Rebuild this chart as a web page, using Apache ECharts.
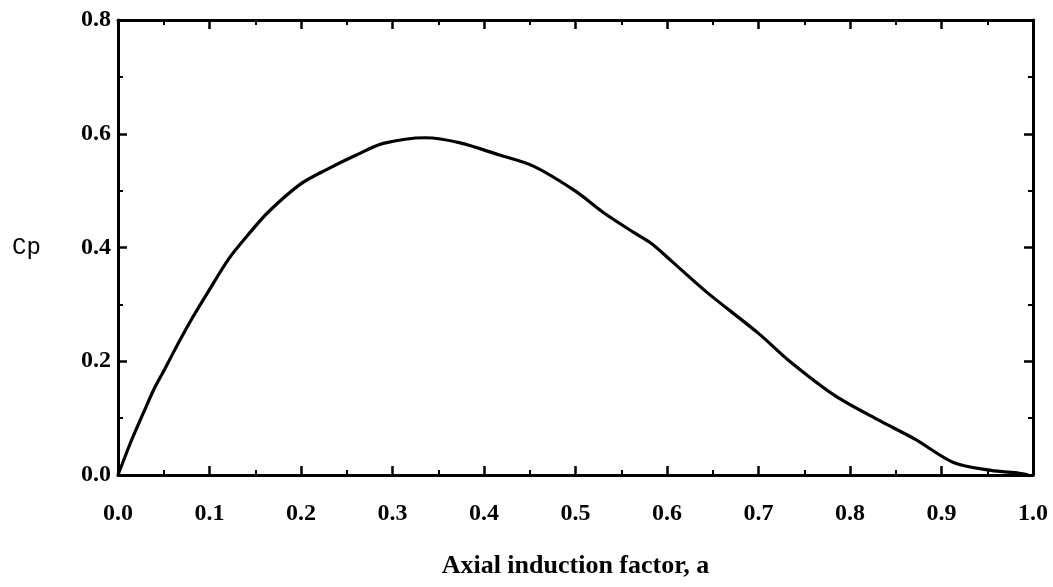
<!DOCTYPE html>
<html>
<head>
<meta charset="utf-8">
<script src="https://cdn.jsdelivr.net/npm/echarts@6/dist/echarts.min.js"></script>
<style>
  html, body { margin: 0; padding: 0; background: #fff; }
  #chart { width: 1053px; height: 587px; }
</style>
</head>
<body>
<div id="chart"></div>
<script>
// axial induction factor a
var aVals = [0, 0.015, 0.028, 0.039, 0.051, 0.066, 0.079, 0.097, 0.121, 0.142, 0.164, 0.199,
  0.228, 0.261, 0.29, 0.336, 0.374, 0.416, 0.454, 0.5, 0.53, 0.564, 0.583, 0.605, 0.643,
  0.7, 0.734, 0.784, 0.833, 0.871, 0.913, 0.954, 0.985, 0.995];
// power coefficient Cp
var cpVals = [0, 0.062, 0.11, 0.15, 0.186, 0.232, 0.27, 0.318, 0.38, 0.422, 0.462, 0.511,
  0.537, 0.563, 0.583, 0.593, 0.584, 0.563, 0.543, 0.499, 0.462, 0.426, 0.407, 0.376, 0.322,
  0.249, 0.2, 0.139, 0.095, 0.063, 0.022, 0.008, 0.003, 0];
var xTicks = [0, 1, 0.1];
var yTicks = [0, 0.8, 0.2];
var xTitle = 'Axial induction factor, a';
var yTitle = 'Cp';

var points = aVals.map(function (a, i) { return [a, cpVals[i]]; });

function lbl(margin) {
  return {
    color: '#000', fontFamily: 'Liberation Serif', fontWeight: 'bold', fontSize: 24,
    margin: margin,
    formatter: function (v) { return v.toFixed(1); }
  };
}

function axis(pos, ticks, labels, extra) {
  var o = {
    type: 'value', position: pos, min: ticks[0], max: ticks[1], interval: ticks[2],
    axisLine: { show: true, onZero: false, lineStyle: { color: '#000', width: 3 } },
    axisTick: { show: true, inside: true, length: 9, lineStyle: { color: '#000', width: 2.5 } },
    minorTick: { show: true, splitNumber: 2, length: 5, lineStyle: { color: '#000', width: 2 } },
    splitLine: { show: false },
    axisLabel: labels || { show: false }
  };
  for (var k in extra) o[k] = extra[k];
  return o;
}

var chart = echarts.init(document.getElementById('chart'));
chart.setOption({
  backgroundColor: '#fff',
  animation: false,
  grid: { left: 118, right: 20, top: 20, bottom: 112 },
  xAxis: [
    axis('bottom', xTicks, lbl(27), {
      name: xTitle, nameLocation: 'middle', nameGap: 78,
      nameTextStyle: { color: '#000', fontFamily: 'Liberation Serif', fontWeight: 'bold', fontSize: 26 }
    }),
    axis('top', xTicks, null, {})
  ],
  yAxis: [
    axis('left', yTicks, lbl(7), {}),
    axis('right', yTicks, null, {})
  ],
  graphic: [{
    type: 'text', left: 12, top: 236,
    style: { text: yTitle, fill: '#000', font: '24px "Liberation Mono"' }
  }],
  series: [{
    type: 'line', data: points, smooth: 0.3, showSymbol: false,
    lineStyle: { color: '#000', width: 3.2 }
  }]
});
</script>
</body>
</html>
